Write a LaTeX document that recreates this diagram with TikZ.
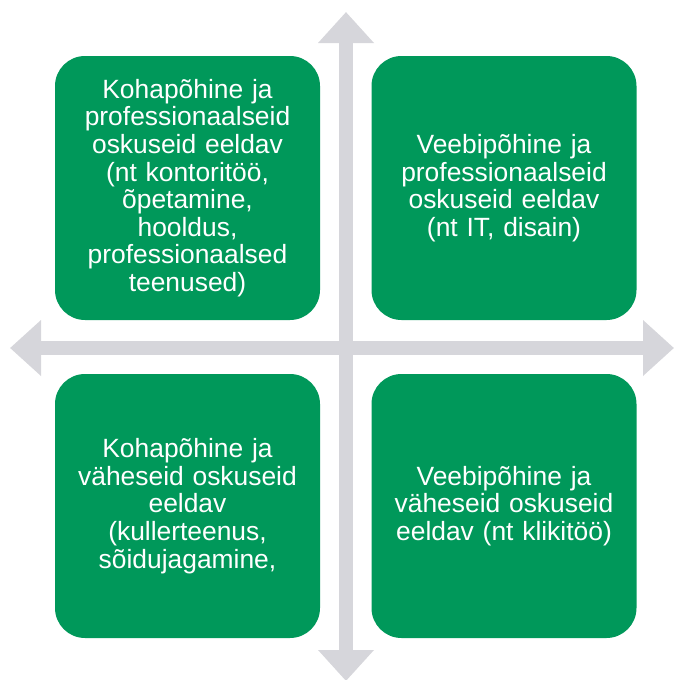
\documentclass[tikz,border=0pt]{standalone}
\usepackage{fontspec}
\setmainfont{Liberation Sans}
\usetikzlibrary{arrows.meta}
\definecolor{roheline}{RGB}{0,152,90}
\definecolor{hall}{RGB}{214,214,219}
\tikzset{
  kast/.style={fill=roheline, rounded corners=15pt, minimum width=132.5pt, minimum height=132pt,
    text=white, text width=128pt, align=center, inner sep=0pt,
    font=\fontsize{13.2pt}{13.8pt}\selectfont},
  telg/.style={hall, line width=7pt, {Triangle[length=15.5pt,width=27pt]}-{Triangle[length=15.5pt,width=27pt]}}
}
\begin{document}
\begin{tikzpicture}[x=0.5pt,y=-0.5pt]
\useasboundingbox (0,0) rectangle (674,680);

% teljed
\coordinate (ules) at (346,12);
\coordinate (alla) at (346,681);
\coordinate (vasak) at (10,348);
\coordinate (parem) at (674,348);
\draw[telg] (alla) -- (ules);
\draw[telg] (vasak) -- (parem);

% neli kasti
\node[kast] (kohaprof) at (187.5,188) {Kohapõhine ja\\ professionaalseid\\ oskuseid eeldav\\ (nt kontoritöö,\\ õpetamine,\\ hooldus,\\ professionaalsed\\ teenused)};
\node[kast] (veebprof) at (504,188) {Veebipõhine ja\\ professionaalseid\\ oskuseid eeldav\\ (nt IT, disain)};
\node[kast] (kohavah) at (187.5,506) {Kohapõhine ja\\ väheseid oskuseid\\ eeldav\\ (kullerteenus,\\ sõidujagamine,};
\node[kast] (veebvah) at (504,506) {Veebipõhine ja\\ väheseid oskuseid\\ eeldav (nt klikitöö)};
\end{tikzpicture}
\end{document}
